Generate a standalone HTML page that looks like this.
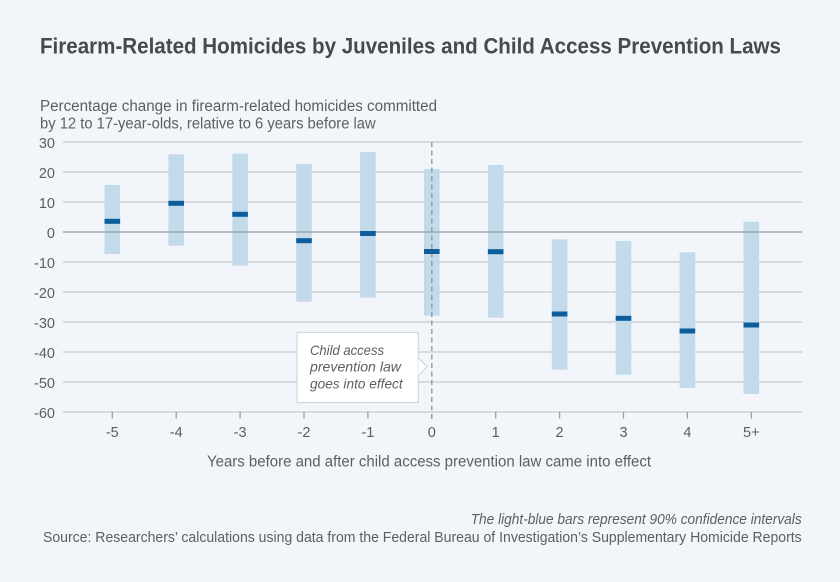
<!DOCTYPE html>
<html><head><meta charset="utf-8"><style>
html,body{margin:0;padding:0;background:#f2f6fa;}
svg{display:block;}
text{font-family:"Liberation Sans",sans-serif;}
</style></head><body>
<svg width="840" height="582" viewBox="0 0 840 582" xmlns="http://www.w3.org/2000/svg">
<rect width="840" height="582" fill="#f2f6fa"/>
<text x="40" y="53.3" font-size="22" font-weight="bold" fill="#46494d" textLength="741" lengthAdjust="spacingAndGlyphs">Firearm-Related Homicides by Juveniles and Child Access Prevention Laws</text>
<text x="40" y="111" font-size="15.5" fill="#5b5f65" textLength="397" lengthAdjust="spacingAndGlyphs">Percentage change in firearm-related homicides committed</text>
<text x="40" y="128.3" font-size="15.5" fill="#5b5f65" textLength="335.7" lengthAdjust="spacingAndGlyphs">by 12 to 17-year-olds, relative to 6 years before law</text>
<g stroke="#cdd1d6" stroke-width="1.5">
<line x1="63" y1="142" x2="802" y2="142"/>
<line x1="63" y1="172" x2="802" y2="172"/>
<line x1="63" y1="202" x2="802" y2="202"/>
<line x1="63" y1="262" x2="802" y2="262"/>
<line x1="63" y1="292" x2="802" y2="292"/>
<line x1="63" y1="322" x2="802" y2="322"/>
<line x1="63" y1="352" x2="802" y2="352"/>
<line x1="63" y1="382" x2="802" y2="382"/>
<line x1="63" y1="412" x2="802" y2="412"/>
</g>
<g fill="#c3daeb">
<rect x="104.5" y="185" width="15.6" height="69"/>
<rect x="168.4" y="154.3" width="15.6" height="91.4"/>
<rect x="232.3" y="153.7" width="15.6" height="112"/>
<rect x="296.2" y="164" width="15.6" height="137.7"/>
<rect x="360.1" y="152" width="15.6" height="145.7"/>
<rect x="424" y="169" width="15.6" height="146.7"/>
<rect x="487.9" y="165" width="15.6" height="152.7"/>
<rect x="551.8" y="239.3" width="15.6" height="130.4"/>
<rect x="615.7" y="241" width="15.6" height="133.7"/>
<rect x="679.6" y="252.3" width="15.6" height="135.7"/>
<rect x="743.5" y="221.7" width="15.6" height="172.3"/>
</g>
<line x1="63" y1="232" x2="802" y2="232" stroke="#a3a7ab" stroke-width="1.5"/>
<line x1="431.8" y1="142" x2="431.8" y2="420" stroke="#9a9ea3" stroke-width="1.5" stroke-dasharray="5,3.5"/>
<g fill="#0d5c9c">
<rect x="104.5" y="218.8" width="15.6" height="5"/>
<rect x="168.4" y="200.8" width="15.6" height="5"/>
<rect x="232.3" y="211.8" width="15.6" height="5"/>
<rect x="296.2" y="238.2" width="15.6" height="5"/>
<rect x="360.1" y="231" width="15.6" height="5"/>
<rect x="424" y="249" width="15.6" height="5"/>
<rect x="487.9" y="249.2" width="15.6" height="5"/>
<rect x="551.8" y="311.5" width="15.6" height="5"/>
<rect x="615.7" y="315.8" width="15.6" height="5"/>
<rect x="679.6" y="328.5" width="15.6" height="5"/>
<rect x="743.5" y="322.5" width="15.6" height="5"/>
</g>
<g stroke="#9a9ea3" stroke-width="1.3">
<line x1="112.3" y1="412" x2="112.3" y2="418.5"/>
<line x1="176.2" y1="412" x2="176.2" y2="418.5"/>
<line x1="240.1" y1="412" x2="240.1" y2="418.5"/>
<line x1="304" y1="412" x2="304" y2="418.5"/>
<line x1="367.9" y1="412" x2="367.9" y2="418.5"/>
<line x1="495.7" y1="412" x2="495.7" y2="418.5"/>
<line x1="559.6" y1="412" x2="559.6" y2="418.5"/>
<line x1="623.5" y1="412" x2="623.5" y2="418.5"/>
<line x1="687.4" y1="412" x2="687.4" y2="418.5"/>
<line x1="751.3" y1="412" x2="751.3" y2="418.5"/>
</g>
<g font-size="14.5" fill="#5b5f65" text-anchor="end">
<text x="55" y="148">30</text>
<text x="55" y="178">20</text>
<text x="55" y="208">10</text>
<text x="55" y="238">0</text>
<text x="55" y="268">-10</text>
<text x="55" y="298">-20</text>
<text x="55" y="328">-30</text>
<text x="55" y="358">-40</text>
<text x="55" y="388">-50</text>
<text x="55" y="418">-60</text>
</g>
<g font-size="14.5" fill="#5b5f65" text-anchor="middle">
<text x="112.3" y="437">-5</text>
<text x="176.2" y="437">-4</text>
<text x="240.1" y="437">-3</text>
<text x="304" y="437">-2</text>
<text x="367.9" y="437">-1</text>
<text x="431.8" y="437">0</text>
<text x="495.7" y="437">1</text>
<text x="559.6" y="437">2</text>
<text x="623.5" y="437">3</text>
<text x="687.4" y="437">4</text>
<text x="751.3" y="437">5+</text>
</g>
<rect x="297" y="332.5" width="121.3" height="70" fill="#ffffff" stroke="#d3d7db" stroke-width="1.2"/>
<polygon points="418.3,357.5 427,366.7 418.3,376" fill="#ffffff"/>
<polyline points="418.3,357.5 427,366.7 418.3,376" fill="none" stroke="#d3d7db" stroke-width="1.2"/>
<g font-size="13.7" font-style="italic" fill="#5b5f65">
<text x="310" y="355" textLength="74" lengthAdjust="spacingAndGlyphs">Child access</text>
<text x="310" y="371.7" textLength="91" lengthAdjust="spacingAndGlyphs">prevention law</text>
<text x="310" y="388.3" textLength="92.7" lengthAdjust="spacingAndGlyphs">goes into effect</text>
</g>
<text x="207" y="466.5" font-size="15.5" fill="#5b5f65" textLength="444" lengthAdjust="spacingAndGlyphs">Years before and after child access prevention law came into effect</text>
<text x="801.7" y="524" font-size="14.5" font-style="italic" fill="#5b5f65" text-anchor="end" textLength="331" lengthAdjust="spacingAndGlyphs">The light-blue bars represent 90% confidence intervals</text>
<text x="43" y="542" font-size="14.5" fill="#5b5f65" textLength="758.7" lengthAdjust="spacingAndGlyphs">Source: Researchers’ calculations using data from the Federal Bureau of Investigation’s Supplementary Homicide Reports</text>
</svg>
</body></html>
